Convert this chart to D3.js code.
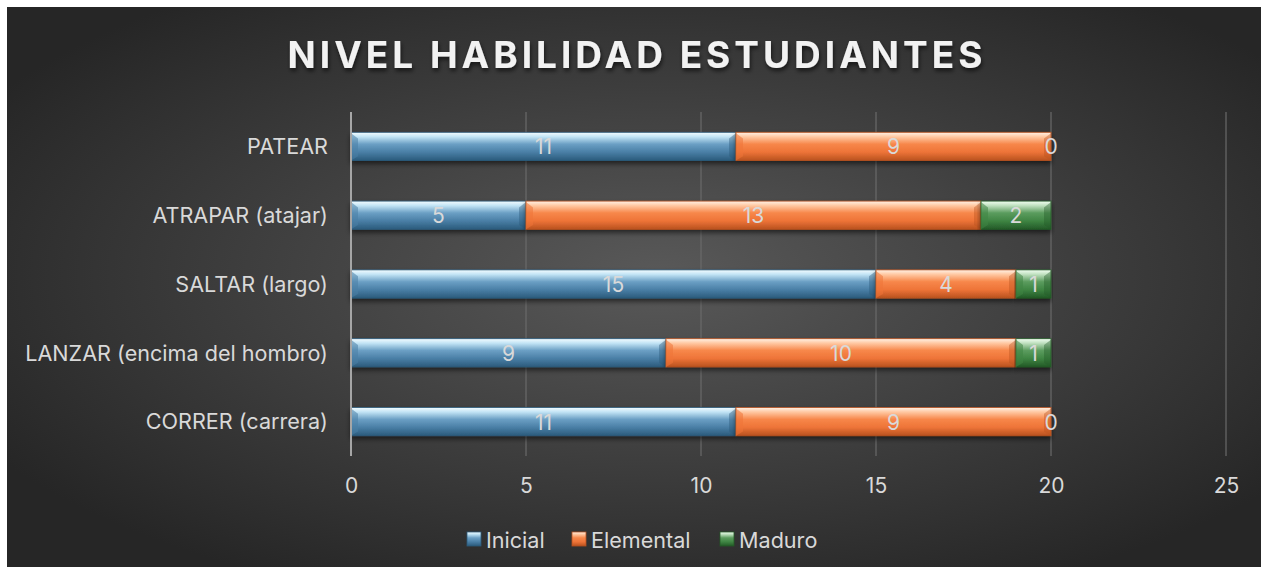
<!DOCTYPE html>
<html>
<head>
<meta charset="utf-8">
<script src="https://cdn.jsdelivr.net/npm/d3@7"></script>
<style>
  html, body { margin: 0; padding: 0; background: #fff; }
  text { font-family: Inter, "Noto Sans", "Liberation Sans", sans-serif; }
</style>
</head>
<body>
<div id="chart"></div>
<script>
const categories = ["PATEAR", "ATRAPAR (atajar)", "SALTAR (largo)", "LANZAR (encima del hombro)", "CORRER (carrera)"];
const seriesNames = ["Inicial", "Elemental", "Maduro"];
const inicial = [11, 5, 15, 9, 11];
const elemental = [9, 13, 4, 10, 9];
const maduro = [0, 2, 1, 1, 0];
const xTicks = [0, 5, 10, 15, 20, 25];

document.addEventListener("DOMContentLoaded", function () {
  const W = 1268, H = 573;
  const margin = { top: 112, right: 42, bottom: 117, left: 351 };
  const width = W - margin.left - margin.right;
  const height = H - margin.top - margin.bottom;

  const svg = d3.select("#chart").append("svg")
    .attr("width", W).attr("height", H);

  const defs = svg.append("defs");

  // background gradient
  const bg = defs.append("radialGradient").attr("id", "bg")
    .attr("cx", "52%").attr("cy", "48%").attr("r", "62%");
  bg.append("stop").attr("offset", "0%").attr("stop-color", "#595959");
  bg.append("stop").attr("offset", "100%").attr("stop-color", "#262626");

  const palettes = [
    ["#f4fcff", "#c2e4f5", "#6b9fc4", "#4a7fa6", "#2b5b7c"],
    ["#fff2e6", "#ffc8a2", "#f7874a", "#ee7438", "#b9521f"],
    ["#f2fff2", "#bfe0bf", "#5b9c5e", "#3f8543", "#235a27"]
  ];
  palettes.forEach(function (p, i) {
    const g = defs.append("linearGradient").attr("id", "g" + i)
      .attr("x1", 0).attr("y1", 0).attr("x2", 0).attr("y2", 1);
    [[0, p[0]], [0.16, p[1]], [0.42, p[2]], [0.7, p[3]], [1, p[4]]].forEach(function (s) {
      g.append("stop").attr("offset", s[0]).attr("stop-color", s[1]);
    });
  });

  const shadow = defs.append("filter").attr("id", "sh")
    .attr("x", "-5%").attr("y", "-30%").attr("width", "110%").attr("height", "180%");
  shadow.append("feDropShadow").attr("dx", 0).attr("dy", 3).attr("stdDeviation", 2.5)
    .attr("flood-color", "#000").attr("flood-opacity", 0.55);

  const tshadow = defs.append("filter").attr("id", "tsh");
  tshadow.append("feDropShadow").attr("dx", 1).attr("dy", 3).attr("stdDeviation", 2)
    .attr("flood-color", "#000").attr("flood-opacity", 0.6);

  svg.append("rect").attr("x", 7).attr("y", 7).attr("width", W - 14).attr("height", H - 13)
    .attr("fill", "url(#bg)");

  // title
  svg.append("text")
    .attr("x", 637).attr("y", 68)
    .attr("text-anchor", "middle")
    .attr("fill", "#f2f2f2")
    .attr("font-size", 37).attr("font-weight", 700)
    .attr("letter-spacing", 4)
    .attr("filter", "url(#tsh)")
    .text("NIVEL HABILIDAD ESTUDIANTES");

  const g = svg.append("g").attr("transform", `translate(${margin.left},${margin.top})`);

  const xScale = d3.scaleLinear().domain([0, 25]).range([0, width]);
  const yScale = d3.scaleBand().domain(categories).range([0, height]).paddingInner(0.59).paddingOuter(0.295);

  // gridlines
  g.append("g").selectAll("line").data(xTicks.slice(1)).enter().append("line")
    .attr("x1", d => xScale(d)).attr("x2", d => xScale(d))
    .attr("y1", 0).attr("y2", height)
    .attr("stroke", "#6a6a6a").attr("stroke-width", 1.2);

  // x tick labels
  const xAxis = g.append("g").attr("transform", `translate(0,${height})`)
    .call(d3.axisBottom(xScale).tickValues(xTicks).tickSize(0).tickPadding(22));
  xAxis.select(".domain").remove();
  xAxis.selectAll("text").attr("fill", "#d9d9d9").attr("font-size", 21)
    .style("font-family", "Inter, 'Noto Sans', sans-serif");

  // y labels
  const yAxis = g.append("g")
    .call(d3.axisLeft(yScale).tickSize(0).tickPadding(23));
  yAxis.select(".domain").remove();
  yAxis.selectAll("text").attr("fill", "#d9d9d9").attr("font-size", 21.6)
    .attr("dy", "0.36em")
    .style("font-family", "Inter, 'Noto Sans', sans-serif");

  // stacked data
  const rows = categories.map((c, i) => ({ cat: c, Inicial: inicial[i], Elemental: elemental[i], Maduro: maduro[i] }));
  const stacked = d3.stack().keys(seriesNames)(rows);

  const bh = yScale.bandwidth();
  stacked.forEach(function (layer, si) {
    const lg = g.append("g");
    layer.forEach(function (d) {
      const x0 = xScale(d[0]), x1 = xScale(d[1]);
      const y0 = yScale(d.data.cat);
      const w = x1 - x0;
      if (w > 0) {
        lg.append("rect")
          .attr("x", x0).attr("y", y0).attr("width", w).attr("height", bh)
          .attr("fill", `url(#g${si})`)
          .attr("stroke", palettes[si][4]).attr("stroke-width", 0.8)
          .attr("filter", "url(#sh)");
        const bv = Math.min(7, w / 2);
        // bevel ends
        lg.append("polygon")
          .attr("points", [[x0, y0 + 1], [x0 + bv, y0 + bv * 0.9], [x0 + bv, y0 + bh - bv * 0.6], [x0, y0 + bh]].join(" "))
          .attr("fill", palettes[si][3]).attr("opacity", 0.55);
        lg.append("polygon")
          .attr("points", [[x1, y0 + 1], [x1 - bv, y0 + bv * 0.9], [x1 - bv, y0 + bh - bv * 0.6], [x1, y0 + bh]].join(" "))
          .attr("fill", palettes[si][4]).attr("opacity", 0.4);
      }
      lg.append("text")
        .attr("x", (x0 + x1) / 2)
        .attr("y", y0 + bh / 2 + 8)
        .attr("text-anchor", "middle")
        .attr("fill", "#d9d9d9")
        .attr("font-size", 21)
        .text(d[1] - d[0]);
    });
  });

  // y axis line
  g.append("line").attr("x1", 0).attr("x2", 0).attr("y1", 0).attr("y2", height)
    .attr("stroke", "#a6a6a6").attr("stroke-width", 2);

  // legend
  const legend = svg.append("g").attr("transform", "translate(0,540)");
  const legendX = [467, 572, 720];
  seriesNames.forEach(function (n, i) {
    const lgi = legend.append("g").attr("transform", `translate(${legendX[i]},0)`);
    lgi.append("rect").attr("x", 0).attr("y", -8).attr("width", 14).attr("height", 14)
      .attr("fill", `url(#g${i})`).attr("stroke", palettes[i][4]).attr("stroke-width", 0.8);
    lgi.append("text").attr("x", 19).attr("y", 7.5)
      .attr("fill", "#d9d9d9").attr("font-size", 21.6).text(n);
  });
});
</script>
</body>
</html>
